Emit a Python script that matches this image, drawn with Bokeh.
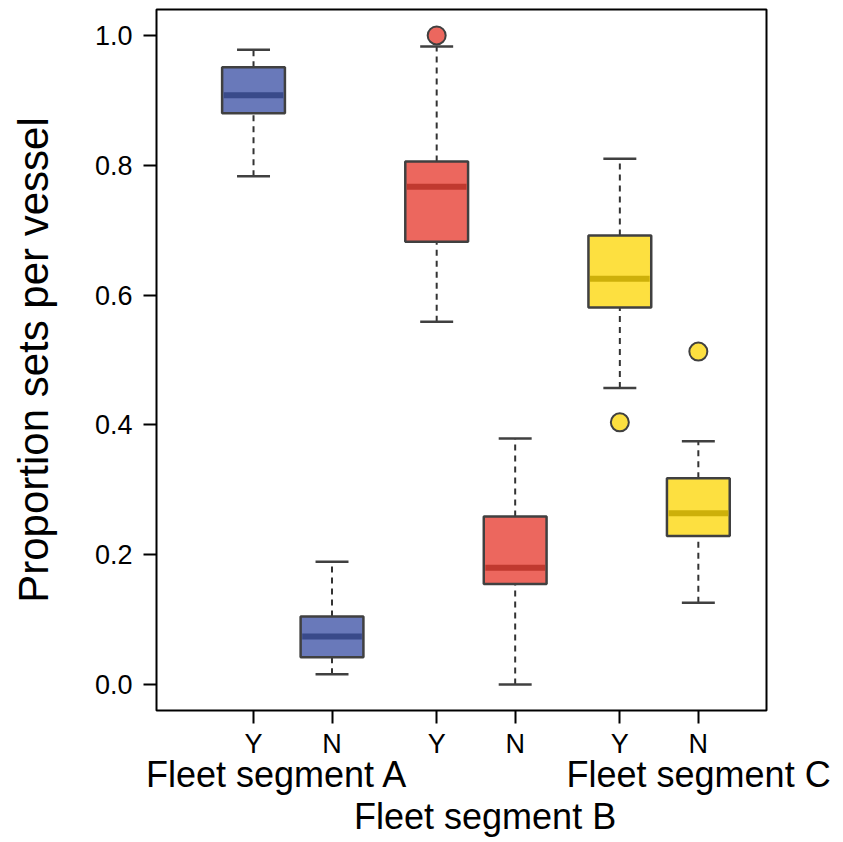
from bokeh.plotting import figure
from bokeh.models import Range1d, FixedTicker, LinearAxis, CustomJSTickFormatter, PrintfTickFormatter
from bokeh.embed import file_html
from bokeh.resources import INLINE

# ---- data ----
positions = [1.0, 2.0, 3 + 1 / 3, 4 + 1 / 3, 5 + 2 / 3, 6 + 2 / 3]
tick_labels = ["Y", "N", "Y", "N", "Y", "N"]
q1 = [0.880, 0.042, 0.682, 0.155, 0.581, 0.229]
med = [0.908, 0.074, 0.767, 0.180, 0.625, 0.264]
q3 = [0.951, 0.105, 0.806, 0.259, 0.692, 0.318]
whisk_lo = [0.783, 0.016, 0.559, 0.000, 0.457, 0.126]
whisk_hi = [0.978, 0.189, 0.983, 0.379, 0.810, 0.375]
outlier_box = [2, 4, 5]
outlier_val = [1.000, 0.404, 0.513]
group_labels_row1 = ["Fleet segment A", "Fleet segment C"]
group_pos_row1 = [1.30, 6.67]
group_labels_row2 = ["Fleet segment B"]
group_pos_row2 = [3.95]
y_ticks = [0.0, 0.2, 0.4, 0.6, 0.8, 1.0]

fill = ["#6979BA", "#6979BA", "#EC675E", "#EC675E", "#FDE040", "#FDE040"]
med_col = ["#394A8A", "#394A8A", "#C0392F", "#C0392F", "#CDB00A", "#CDB00A"]

FONT = "Liberation Sans"
box_w = 0.8
staple_w = 0.42

p = figure(frame_width=610, frame_height=701,
           x_range=Range1d(-0.236, 7.535), y_range=Range1d(-0.04, 1.04),
           output_backend="svg", toolbar_location=None,
           min_border_left=156, min_border_right=69, min_border_top=9, min_border_bottom=10)
p.grid.visible = False
p.outline_line_color = "black"
p.outline_line_width = 2

# whiskers (dashed)
p.segment(x0=positions, y0=q3, x1=positions, y1=whisk_hi, line_color="#333333",
          line_width=2, line_dash="6 5")
p.segment(x0=positions, y0=whisk_lo, x1=positions, y1=q1, line_color="#333333",
          line_width=2, line_dash="6 5")
# staples
sx0 = [x - staple_w / 2 for x in positions]
sx1 = [x + staple_w / 2 for x in positions]
p.segment(x0=sx0, y0=whisk_hi, x1=sx1, y1=whisk_hi, line_color="#404040", line_width=2.5)
p.segment(x0=sx0, y0=whisk_lo, x1=sx1, y1=whisk_lo, line_color="#404040", line_width=2.5)
# boxes
p.vbar(x=positions, width=box_w, bottom=q1, top=q3, fill_color=fill,
       line_color="#404040", line_width=2.5)
# medians
mx0 = [x - box_w / 2 + 0.02 for x in positions]
mx1 = [x + box_w / 2 - 0.02 for x in positions]
p.segment(x0=mx0, y0=med, x1=mx1, y1=med, line_color=med_col, line_width=6, line_cap="butt")
# outliers
ox = [positions[i] for i in outlier_box]
oc = [fill[i] for i in outlier_box]
p.scatter(x=ox, y=outlier_val, size=18, fill_color=oc, line_color="#404040", line_width=2)

# y axis
ya = p.yaxis[0]
ya.ticker = FixedTicker(ticks=y_ticks)
ya.formatter = PrintfTickFormatter(format="%.1f")
ya.axis_line_color = None
ya.major_tick_in = 0
ya.major_tick_out = 13
ya.major_tick_line_width = 2
ya.minor_tick_line_color = None
ya.major_label_standoff = 11
ya.major_label_text_font = FONT
ya.major_label_text_font_size = "27px"
ya.major_label_text_color = "black"
ya.axis_label = "Proportion sets per vessel"
ya.axis_label_text_font = FONT
ya.axis_label_text_font_size = "42px"
ya.axis_label_text_font_style = "normal"
ya.axis_label_text_color = "black"
ya.axis_label_standoff = 35

# x axis: Y/N
xa = p.xaxis[0]
xa.ticker = FixedTicker(ticks=positions)
xa.formatter = CustomJSTickFormatter(args=dict(labs=tick_labels), code="return labs[index];")
xa.axis_line_color = None
xa.major_tick_in = 0
xa.major_tick_out = 13
xa.major_tick_line_width = 2
xa.minor_tick_line_color = None
xa.major_label_standoff = 5
xa.major_label_text_font = FONT
xa.major_label_text_font_size = "27px"
xa.major_label_text_color = "black"

def group_axis(pos, labs, standoff):
    ax = LinearAxis(ticker=FixedTicker(ticks=pos),
                    formatter=CustomJSTickFormatter(args=dict(labs=labs), code="return labs[index];"))
    ax.axis_line_color = None
    ax.major_tick_line_color = None
    ax.minor_tick_line_color = None
    ax.major_tick_out = 0
    ax.major_tick_in = 0
    ax.major_label_standoff = standoff
    ax.major_label_text_font = FONT
    ax.major_label_text_font_size = "36px"
    ax.major_label_text_color = "black"
    return ax

p.add_layout(group_axis(group_pos_row1, group_labels_row1, -8), "below")
p.add_layout(group_axis(group_pos_row2, group_labels_row2, -2), "below")

open("out.html", "w").write(file_html(p, INLINE))
